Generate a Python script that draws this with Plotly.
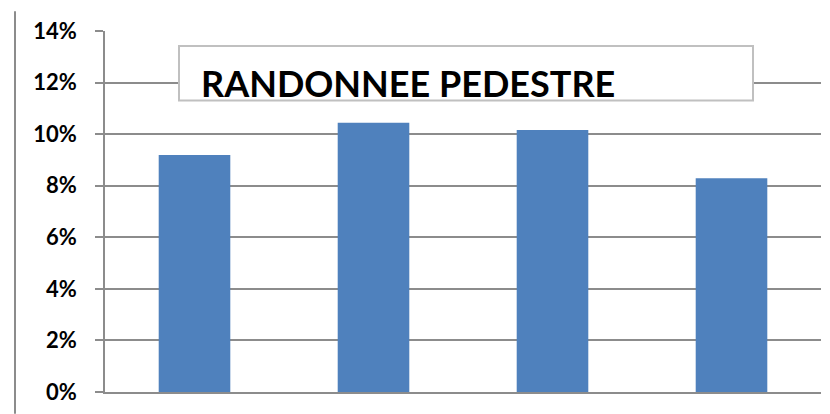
import plotly.graph_objects as go

categories = ["A", "B", "C", "D"]
values = [0.0919, 0.1044, 0.1016, 0.0829]
tick_vals = [0, 0.02, 0.04, 0.06, 0.08, 0.10, 0.12, 0.14]
tick_text = ["0%", "2%", "4%", "6%", "8%", "10%", "12%", "14%"]
title_text = "RANDONNEE PEDESTRE"

# page body has an 8px margin; lay the figure out in window pixels
OFF = 8
WIN_W, WIN_H = 830, 414
W, H = WIN_W - OFF, WIN_H - OFF
PL, PR, PT, PB = 105, 821, 28, 392  # plot area in window pixels
L, R, T, B = PL - OFF, WIN_W - PR, PT - OFF, WIN_H - PB

fig = go.Figure(go.Bar(x=categories, y=values, marker=dict(color="#4F81BD", line=dict(width=0)), width=0.4))

def px_x(x):
    return (x - PL) / (PR - PL)

def px_y(y):
    return (PB - y) / (PB - PT)

fig.update_layout(
    width=W, height=H,
    margin=dict(l=L, r=R, t=T, b=B, pad=0),
    paper_bgcolor="white", plot_bgcolor="white",
    showlegend=False,
    xaxis=dict(showticklabels=False, showgrid=False, zeroline=False,
               showline=True, linecolor="#8c8c8c", linewidth=1.5, ticks=""),
    yaxis=dict(range=[0, 0.14], tickvals=tick_vals, ticktext=tick_text,
               showgrid=True, gridcolor="#8c8c8c", gridwidth=1.5,
               showline=True, linecolor="#8c8c8c", linewidth=1.5,
               zeroline=False,
               ticks="outside", ticklen=8, tickcolor="#8c8c8c", tickwidth=1.5,
               ticklabelstandoff=14,
               tickfont=dict(family="Lato", size=22, color="black", weight="bold")),
    shapes=[
        dict(type="line", xref="paper", yref="paper", x0=px_x(15), x1=px_x(15), y0=px_y(OFF), y1=px_y(WIN_H),
             line=dict(color="#8c8c8c", width=2)),
        dict(type="rect", xref="paper", yref="paper", x0=px_x(179), x1=px_x(753), y0=px_y(98), y1=px_y(43),
             fillcolor="white", line=dict(color="#c0c0c0", width=2), layer="above"),
    ],
    annotations=[
        dict(text=title_text, xref="paper", yref="paper", x=px_x(199), y=px_y(80),
             xanchor="left", yanchor="middle", showarrow=False,
             font=dict(family="Lato", size=36, color="black", weight="bold")),
    ],
)

fig.write_html("out.html")
